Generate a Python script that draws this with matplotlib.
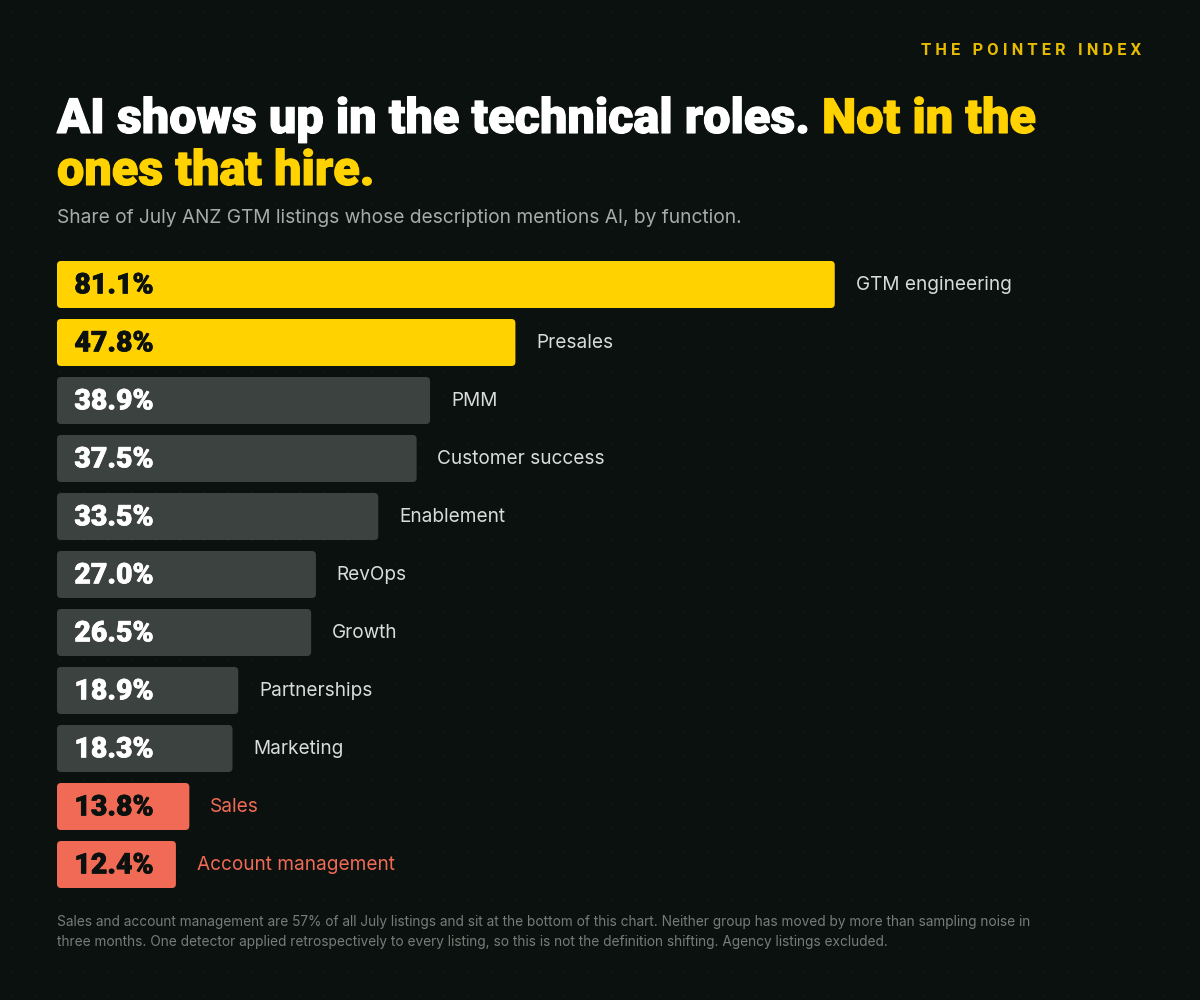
import matplotlib
matplotlib.use("Agg")
import matplotlib.pyplot as plt
from matplotlib.patches import FancyBboxPatch
import matplotlib.patheffects as pe
import numpy as np

# data
functions = ["GTM engineering", "Presales", "PMM", "Customer success", "Enablement",
             "RevOps", "Growth", "Partnerships", "Marketing", "Sales", "Account management"]
share = [81.1, 47.8, 38.9, 37.5, 33.5, 27.0, 26.5, 18.9, 18.3, 13.8, 12.4]
group = ["tech", "tech", "mid", "mid", "mid", "mid", "mid", "mid", "mid", "hire", "hire"]

BG = "#0b110e"
YELLOW = "#ffd200"
GREY = "#3c4240"
CORAL = "#f06a56"
bar_col = {"tech": YELLOW, "mid": GREY, "hire": CORAL}
val_col = {"tech": BG, "mid": "#ffffff", "hire": BG}
lab_col = {"tech": "#d9dcda", "mid": "#d9dcda", "hire": CORAL}

BODY = ["Inter", "DejaVu Sans"]
HEAD = ["Roboto", "DejaVu Sans"]


def heavy(c, lw=1.0):
    # fake a black weight by stroking the glyphs in their own colour
    return [pe.withStroke(linewidth=lw, foreground=c)]


fig = plt.figure(figsize=(12, 10), dpi=100, facecolor=BG)

# background layer in pixel coords
bg = fig.add_axes([0, 0, 1, 1])
bg.set_xlim(0, 1200)
bg.set_ylim(1000, 0)
bg.axis("off")
bg.set_facecolor(BG)
gx, gy = np.meshgrid(np.arange(11, 1200, 24), np.arange(12, 1000, 24))
bg.scatter(gx.ravel(), gy.ravel(), s=1.2, color="#18201b", linewidths=0, zorder=0)

# header
bg.text(1141, 55, "T H E   P O I N T E R   I N D E X", ha="right", va="baseline",
        color="#e6bb00", fontsize=11.8, fontweight="bold", family=HEAD)

renderer = fig.canvas.get_renderer()
t1 = bg.text(57, 133, "AI shows up in the technical roles.", ha="left", va="baseline",
             color="white", fontsize=35, fontweight="black", family=HEAD,
             path_effects=heavy("white", 0.8))
w = t1.get_window_extent(renderer=renderer).width
bg.text(57 + w + 12, 133, "Not in the", ha="left", va="baseline",
        color=YELLOW, fontsize=35, fontweight="black", family=HEAD,
        path_effects=heavy(YELLOW, 0.8))
bg.text(57, 185, "ones that hire.", ha="left", va="baseline",
        color=YELLOW, fontsize=35, fontweight="black", family=HEAD,
        path_effects=heavy(YELLOW, 0.8))

bg.text(57, 223, "Share of July ANZ GTM listings whose description mentions AI, by function.",
        ha="left", va="baseline", color="#a7aca9", fontsize=13.8, family=BODY)

bg.text(57, 926, "Sales and account management are 57% of all July listings and sit at the bottom of this chart. "
        "Neither group has moved by more than sampling noise in",
        ha="left", va="baseline", color="#767c78", fontsize=9.85, family=BODY)
bg.text(57, 946, "three months. One detector applied retrospectively to every listing, so this is not the "
        "definition shifting. Agency listings excluded.",
        ha="left", va="baseline", color="#767c78", fontsize=9.85, family=BODY)

# bar chart: 1% = 9.59 px, row pitch 58 px
px_per_unit = 9.59
left_px, top_px = 57, 255.5
n = len(functions)
ax_w = 100 * px_per_unit
ax_h = n * 58
ax = fig.add_axes([left_px / 1200, 1 - (top_px + ax_h) / 1000, ax_w / 1200, ax_h / 1000])
ax.set_xlim(0, 100)
ax.set_ylim(n - 0.5, -0.5)
ax.axis("off")
ax.patch.set_alpha(0)

bh = 47 / 58
aspect = px_per_unit / 58
for i, (f, v, g) in enumerate(zip(functions, share, group)):
    p = FancyBboxPatch((0, i - bh / 2), v, bh,
                       boxstyle="round,pad=0,rounding_size=%f" % (4 / px_per_unit),
                       mutation_aspect=aspect, facecolor=bar_col[g], edgecolor="none")
    ax.add_patch(p)
    ax.annotate("%.1f%%" % v, (0, i), xytext=(12.5, -1), textcoords="offset points",
                ha="left", va="center", color=val_col[g], fontsize=20.5,
                fontweight="black", family=HEAD, path_effects=heavy(val_col[g], 0.5))
    ax.annotate(f, (v, i), xytext=(15, 0), textcoords="offset points",
                ha="left", va="center", color=lab_col[g], fontsize=13.7, family=BODY)

fig.savefig("out.png", dpi=100, facecolor=BG)
